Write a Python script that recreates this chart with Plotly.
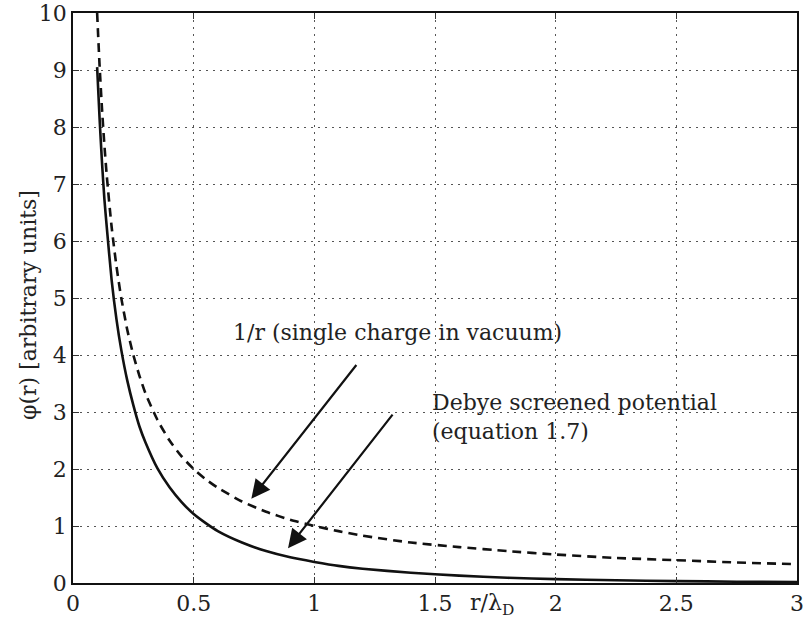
import plotly.graph_objects as go

# valeurs
r = [0.1, 0.11, 0.12, 0.13, 0.14, 0.16, 0.18, 0.2, 0.225, 0.25, 0.275, 0.3, 0.35, 0.4, 0.45,
     0.5, 0.55, 0.6, 0.7, 0.8, 0.9, 1.0, 1.1, 1.2, 1.4, 1.6, 1.8, 2.0, 2.25, 2.5, 2.75, 3.0]
phi_vide = [10.0, 9.09, 8.33, 7.69, 7.14, 6.25, 5.56, 5.0, 4.44, 4.0, 3.64, 3.33, 2.86, 2.5, 2.22,
            2.0, 1.82, 1.67, 1.43, 1.25, 1.11, 1.0, 0.91, 0.83, 0.71, 0.63, 0.56, 0.5, 0.44, 0.4,
            0.36, 0.33]
phi_debye = [9.05, 8.16, 7.39, 6.74, 6.24, 5.32, 4.63, 4.09, 3.55, 3.12, 2.75, 2.47, 2.01, 1.68, 1.42,
             1.21, 1.05, 0.91, 0.71, 0.56, 0.45, 0.37, 0.30, 0.25, 0.18, 0.13, 0.092, 0.068, 0.047,
             0.033, 0.023, 0.017]

x_ticks = [0, 0.5, 1, 1.5, 2, 2.5, 3]
x_ticklabels = ["0", "0.5", "1", "1.5", "2", "2.5", "3"]
y_ticks = list(range(0, 11))

police = "DejaVu Serif"
gris = "#222"
taille = 22

W, H = 805, 634
ml, mr, mt, mb = 73, 8, 13, 51

fig = go.Figure()
fig.add_trace(go.Scatter(x=r, y=phi_vide, mode="lines",
                         line=dict(color="#111", width=2.6, dash="9px,6px", shape="spline",
                                   smoothing=0.6)))
fig.add_trace(go.Scatter(x=r, y=phi_debye, mode="lines",
                         line=dict(color="#111", width=2.6, shape="spline", smoothing=0.6)))

# flèches
fleches = [((1.179, 3.85), (0.739, 1.48)), ((1.329, 2.98), (0.891, 0.61))]
for (x0, y0), (x1, y1) in fleches:
    fig.add_annotation(x=x1, y=y1, ax=x0, ay=y0, xref="x", yref="y", axref="x", ayref="y",
                       showarrow=True, arrowhead=2, arrowsize=1.7, arrowwidth=2.2,
                       arrowcolor="#111", text="")

fig.add_annotation(x=0.655, y=4.4, xref="x", yref="y", text="1/r (single charge in vacuum)",
                   showarrow=False, xanchor="left", yanchor="middle",
                   font=dict(family=police, size=taille, color=gris))
fig.add_annotation(x=1.48, y=3.42, xref="x", yref="y",
                   text="Debye screened potential<br>(equation 1.7)",
                   showarrow=False, xanchor="left", yanchor="top", align="left",
                   font=dict(family=police, size=taille, color=gris))
fig.add_annotation(x=1.635, y=0, xref="x", yref="y", text="r/λ<sub>D</sub>",
                   showarrow=False, xanchor="left", yanchor="top", yshift=-5,
                   font=dict(family=police, size=taille, color=gris))
# titre vertical placé en pixels (x = 28, y = 305)
pw, ph = W - ml - mr, H - mt - mb
fig.add_annotation(x=(28 - ml) / pw, y=(H - mb - 305) / ph, xref="paper", yref="paper",
                   text="φ(r) [arbitrary units]",
                   showarrow=False, textangle=-90, xanchor="center", yanchor="middle",
                   font=dict(family=police, size=taille, color=gris))

axe = dict(showline=True, linecolor="#111", linewidth=1.5, mirror="ticks",
           ticks="inside", ticklen=6, tickcolor="#333", automargin=False,
           ticklabeloverflow="allow",
           showgrid=True, gridcolor="#555", griddash="1.5px,5.5px", gridwidth=1,
           zeroline=False, tickfont=dict(family=police, size=taille, color=gris))

fig.update_xaxes(range=[0, 3], tickvals=x_ticks, ticktext=x_ticklabels, **axe)
fig.update_yaxes(range=[0, 10], tickvals=y_ticks, **axe)

fig.update_layout(width=W, height=H, showlegend=False,
                  margin=dict(l=ml, r=mr, t=mt, b=mb),
                  plot_bgcolor="white", paper_bgcolor="white")

# supprime la marge par défaut de la page et la barre d'outils
fig.write_html("out.html", config={"displayModeBar": False},
               post_script="document.body.style.margin='0';")
